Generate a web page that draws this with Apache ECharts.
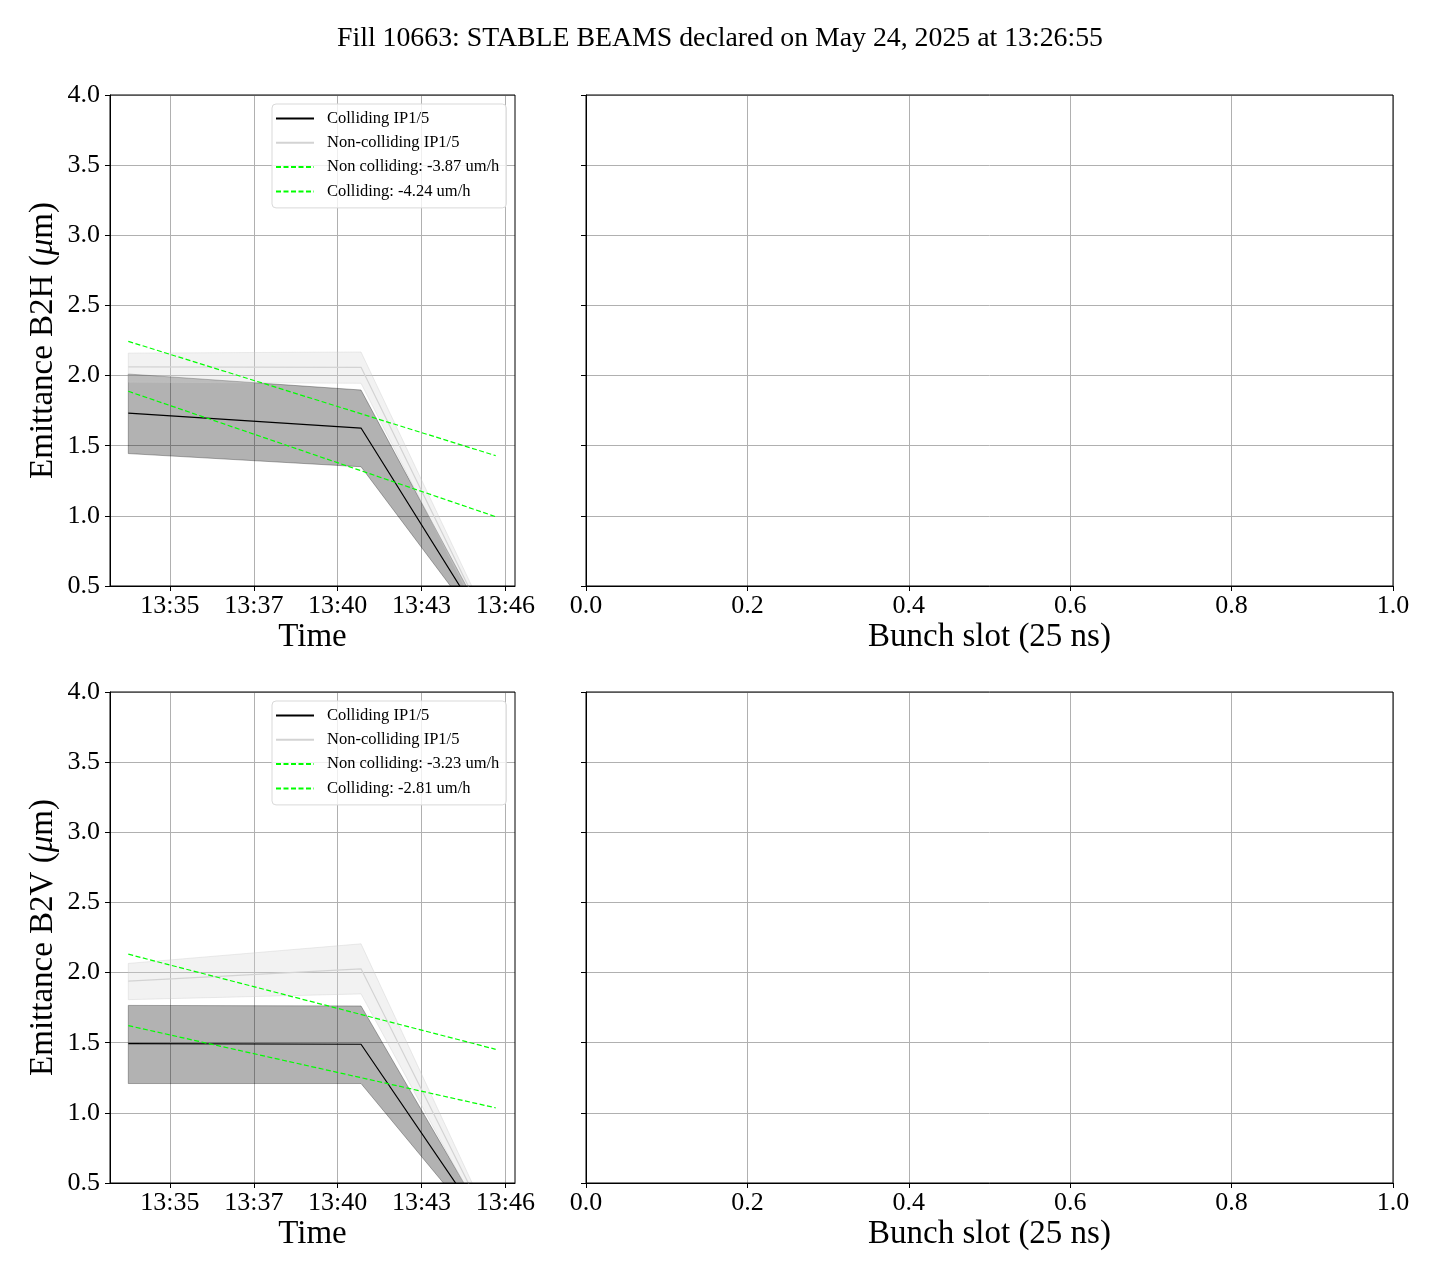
<!DOCTYPE html>
<html><head><meta charset="utf-8">
<script src="https://cdn.jsdelivr.net/npm/echarts@6/dist/echarts.min.js"></script>
<style>html,body{margin:0;padding:0;background:#fff}#c{width:1440px;height:1280px}</style>
</head><body><div id="c"></div>
<script>
const titleText = 'Fill 10663: STABLE BEAMS declared on May 24, 2025 at 13:26:55';
const times = ['13:33:38', '13:41:16', '13:45:41'];
const fitTimes = ['13:33:38', '13:45:41'];
const timeTickValues = ['13:35:00', '13:37:45', '13:40:30', '13:43:15', '13:46:00'];
const timeTickLabels = ['13:35', '13:37', '13:40', '13:43', '13:46'];
const timeRange = ['13:33:02', '13:46:19'];
const legendNames = ['Colliding IP1/5', 'Non-colliding IP1/5'];

// B2H
const hCollMean  = [1.733, 1.626, 0.09];
const hCollUpper = [2.011, 1.897, 0.11];
const hCollLower = [1.444, 1.350, 0.07];
const hNcMean    = [2.062, 2.059, 0.10];
const hNcUpper   = [2.160, 2.168, 0.14];
const hNcLower   = [1.953, 1.945, 0.06];
const hFitNc     = [2.244, 1.429];
const hFitColl   = [1.888, 0.994];
const hFitNcLabel = 'Non colliding: -3.87 um/h';
const hFitCollLabel = 'Colliding: -4.24 um/h';

// B2V
const vCollMean  = [1.494, 1.489, 0.08];
const vCollUpper = [1.766, 1.762, 0.11];
const vCollLower = [1.209, 1.209, 0.05];
const vNcMean    = [1.939, 2.027, 0.11];
const vNcUpper   = [2.065, 2.205, 0.14];
const vNcLower   = [1.807, 1.848, 0.08];
const vFitNc     = [2.131, 1.453];
const vFitColl   = [1.622, 1.036];
const vFitNcLabel = 'Non colliding: -3.23 um/h';
const vFitCollLabel = 'Colliding: -2.81 um/h';

const FONT = 'Liberation Serif';
const toMin = s => { const p = s.split(':').map(Number); return p[0] * 60 + p[1] + p[2] / 60; };
const xT = times.map(toMin);
const xFit = fitTimes.map(toMin);
const tickVals = timeTickValues.map(toMin);
const pairs = (xs, ys) => xs.map((x, i) => [x, ys[i]]);

function bandSeries(name, ax, lo, hi, fill, stroke, z) {
  const data = xT.map((x, i) => [x, lo[i], hi[i]]);
  return {
    name: name, type: 'custom', xAxisIndex: ax, yAxisIndex: ax, clip: true, silent: true, z: z,
    animation: false, data: data, encode: { x: 0, y: [1, 2] },
    renderItem: function (params, api) {
      if (params.dataIndex !== 0) return null;
      const pts = [];
      for (let i = 0; i < data.length; i++) pts.push(api.coord([data[i][0], data[i][2]]));
      for (let i = data.length - 1; i >= 0; i--) pts.push(api.coord([data[i][0], data[i][1]]));
      return { type: 'polygon', shape: { points: pts }, style: { fill: fill, stroke: stroke, lineWidth: 1 } };
    }
  };
}

function panelSeries(k, ax, d) {
  const base = { type: 'line', xAxisIndex: ax, yAxisIndex: ax, symbol: 'none', silent: true, animation: false };
  return [
    bandSeries('cl_band' + k, ax, d.collLower, d.collUpper, 'rgba(0,0,0,0.3)', 'rgba(0,0,0,0.3)', 2),
    bandSeries('nc_band' + k, ax, d.ncLower, d.ncUpper, 'rgba(211,211,211,0.3)', 'rgba(200,200,200,0.35)', 3),
    Object.assign({}, base, { name: legendNames[1], data: pairs(xT, d.ncMean), color: '#d3d3d3',
      itemStyle: { color: '#d3d3d3' }, lineStyle: { color: '#d3d3d3', width: 1.2 }, z: 4 }),
    Object.assign({}, base, { name: legendNames[0], data: pairs(xT, d.collMean), color: '#000',
      itemStyle: { color: '#000' }, lineStyle: { color: '#000', width: 1.2 }, z: 5 }),
    Object.assign({}, base, { name: d.fitNcLabel, data: pairs(xFit, d.fitNc), color: '#00ff00',
      itemStyle: { color: '#00ff00' }, lineStyle: { color: '#00ff00', width: 1.2, type: [5, 2.5] }, z: 6 }),
    Object.assign({}, base, { name: d.fitCollLabel, data: pairs(xFit, d.fitColl), color: '#00ff00',
      itemStyle: { color: '#00ff00' }, lineStyle: { color: '#00ff00', width: 1.2, type: [5, 2.5] }, z: 6 })
  ];
}

const H = { collMean: hCollMean, collUpper: hCollUpper, collLower: hCollLower, ncMean: hNcMean, ncUpper: hNcUpper,
  ncLower: hNcLower, fitNc: hFitNc, fitColl: hFitColl, fitNcLabel: hFitNcLabel, fitCollLabel: hFitCollLabel };
const V = { collMean: vCollMean, collUpper: vCollUpper, collLower: vCollLower, ncMean: vNcMean, ncUpper: vNcUpper,
  ncLower: vNcLower, fitNc: vFitNc, fitColl: vFitColl, fitNcLabel: vFitNcLabel, fitCollLabel: vFitCollLabel };

const grids = [
  { left: 110, top: 95, width: 405, height: 491 },
  { left: 586, top: 95, width: 807, height: 491 },
  { left: 110, top: 692, width: 405, height: 491 },
  { left: 586, top: 692, width: 807, height: 491 }
].map(g => Object.assign(g, { show: true, z: 8, borderColor: '#000', borderWidth: 1, backgroundColor: 'transparent', containLabel: false }));

const axLine = { show: true, onZero: false, lineStyle: { color: '#000', width: 1 } };
const axTick = { show: true, length: 5, lineStyle: { color: '#000', width: 1 } };
const split = { show: true, lineStyle: { color: '#b0b0b0', width: 1 } };
const lblStyle = { fontFamily: FONT, fontSize: 26, color: '#000' };
const nameStyle = { fontFamily: FONT, fontSize: 33, color: '#000' };

function timeAxis(gi) {
  return {
    type: 'value', gridIndex: gi, min: toMin(timeRange[0]), max: toMin(timeRange[1]),
    axisLine: axLine,
    axisTick: Object.assign({}, axTick, { customValues: tickVals }),
    axisLabel: Object.assign({}, lblStyle, { customValues: tickVals, margin: 7,
      formatter: v => { let best = 0; tickVals.forEach((t, i) => { if (Math.abs(t - v) < Math.abs(tickVals[best] - v)) best = i; }); return timeTickLabels[best]; } }),
    splitLine: split,
    name: 'Time', nameLocation: 'middle', nameGap: 35, nameTextStyle: nameStyle
  };
}
function bunchAxis(gi) {
  return {
    type: 'value', gridIndex: gi, min: 0, max: 1, interval: 0.2,
    axisLine: axLine, axisTick: axTick,
    axisLabel: Object.assign({}, lblStyle, { margin: 7, formatter: v => v.toFixed(1) }),
    splitLine: split,
    name: 'Bunch slot (25 ns)', nameLocation: 'middle', nameGap: 35, nameTextStyle: nameStyle
  };
}
function emitAxis(gi, plane, showLabel) {
  const a = {
    type: 'value', gridIndex: gi, min: 0.5, max: 4.0, interval: 0.5,
    axisLine: axLine, axisTick: axTick,
    axisLabel: Object.assign({}, lblStyle, { show: showLabel, margin: 10, formatter: v => v.toFixed(1) }),
    splitLine: split
  };
  if (showLabel) {
    Object.assign(a, {
      name: '{a|Emittance B2' + plane + ' (}{b|μ}{a|m)}', nameLocation: 'middle', nameGap: 50,
      nameTextStyle: Object.assign({}, nameStyle, { rich: {
        a: { fontFamily: FONT, fontSize: 33, color: '#000' },
        b: { fontFamily: FONT, fontSize: 33, color: '#000', fontStyle: 'italic' } } })
    });
  }
  return a;
}

function legendFor(top, d) {
  return {
    orient: 'vertical', left: 272, top: top, itemWidth: 38, itemHeight: 14, itemGap: 7.3,
    padding: [6, 7, 8, 3], backgroundColor: 'rgba(255,255,255,0.8)', borderColor: '#d9d9d9',
    borderWidth: 1, borderRadius: 4, selectedMode: false, z: 10,
    itemStyle: { opacity: 0, borderWidth: 0 },
    textStyle: { fontFamily: FONT, fontSize: 16.5, color: '#000', padding: [0, 0, 0, 8] },
    data: [legendNames[0], legendNames[1], d.fitNcLabel, d.fitCollLabel]
  };
}

const option = {
  animation: false,
  backgroundColor: '#fff',
  title: { text: titleText, left: 'center', top: 20, textStyle: { fontFamily: FONT, fontSize: 27.8, fontWeight: 'normal', color: '#000' } },
  grid: grids,
  xAxis: [timeAxis(0), bunchAxis(1), timeAxis(2), bunchAxis(3)],
  yAxis: [emitAxis(0, 'H', true), emitAxis(1, 'H', false), emitAxis(2, 'V', true), emitAxis(3, 'V', false)],
  legend: [legendFor(104, H), legendFor(701, V)],
  series: panelSeries(0, 0, H).concat(panelSeries(1, 2, V))
};
const chart = echarts.init(document.getElementById('c'), null, { renderer: 'canvas' });
chart.setOption(option);
</script></body></html>
